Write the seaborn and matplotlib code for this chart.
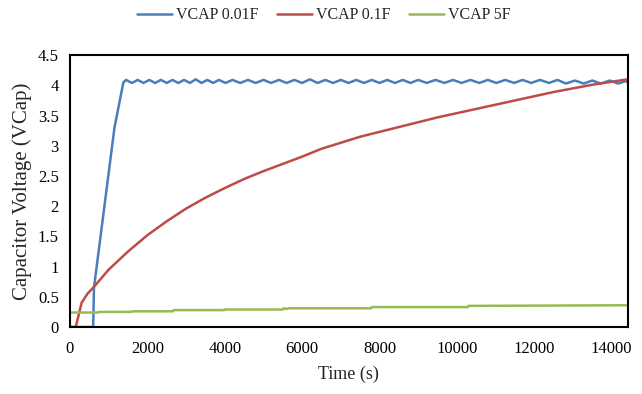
import matplotlib
matplotlib.use("Agg")
import matplotlib.pyplot as plt
from matplotlib.ticker import MultipleLocator
import seaborn as sns
import pandas as pd

# ---- data ----
blue_t = [0, 130, 580, 600, 620, 1150, 1380,
          1450, 1600, 1750, 1900, 2050, 2200, 2350, 2500, 2650, 2800, 2950, 3100,
          3250, 3400, 3550, 3700, 3850, 4020, 4200, 4400, 4600, 4800, 5000, 5200,
          5400, 5600, 5800, 6000, 6200, 6400, 6600, 6800, 7000, 7200, 7400, 7600,
          7800, 8000, 8200, 8400, 8600, 8800, 9000, 9220, 9450, 9680, 9900, 10120,
          10350, 10580, 10800, 11020, 11250, 11480, 11700, 11920, 12150, 12380,
          12600, 12820, 13050, 13280, 13500, 13720, 13950, 14170, 14350, 14420]
blue_v = [0.0, 0.0, 0.0, 0.0, 0.65, 3.3, 4.05,
          4.09, 4.04, 4.09, 4.04, 4.09, 4.04, 4.09, 4.04, 4.09, 4.04, 4.09, 4.04,
          4.10, 4.04, 4.09, 4.04, 4.09, 4.04, 4.09, 4.04, 4.09, 4.04, 4.09, 4.04,
          4.09, 4.04, 4.09, 4.04, 4.10, 4.04, 4.09, 4.04, 4.09, 4.04, 4.09, 4.04,
          4.09, 4.04, 4.09, 4.04, 4.09, 4.04, 4.09, 4.04, 4.09, 4.04, 4.09, 4.04,
          4.09, 4.04, 4.09, 4.04, 4.09, 4.04, 4.09, 4.04, 4.09, 4.04,
          4.09, 4.03, 4.08, 4.03, 4.08, 4.03, 4.08, 4.03, 4.07, 4.05]

red_t = [0, 150, 300, 450, 600, 800, 1000, 1500, 2000, 2500, 3000, 3500, 4000,
         4500, 5000, 5500, 6000, 6500, 7000, 7500, 8000, 8500, 9000, 9500, 10000,
         10500, 11000, 11500, 12000, 12500, 13000, 13500, 14000, 14420]
red_v = [0.0, 0.0, 0.40, 0.55, 0.65, 0.80, 0.95, 1.25, 1.52, 1.75, 1.96, 2.14, 2.30,
         2.45, 2.58, 2.70, 2.82, 2.95, 3.05, 3.15, 3.23, 3.31, 3.39, 3.47, 3.54,
         3.61, 3.68, 3.75, 3.82, 3.89, 3.95, 4.01, 4.06, 4.10]

green_t = [0, 720, 740, 1590, 1610, 2660, 2680, 3990, 4010, 5500, 5520, 5600,
           5650, 7780, 7800, 7840, 10280, 10300, 10340, 14420]
green_v = [0.24, 0.24, 0.25, 0.25, 0.26, 0.26, 0.28, 0.28, 0.29, 0.29, 0.31, 0.30,
           0.31, 0.31, 0.33, 0.33, 0.33, 0.35, 0.35, 0.36]

series_names = ["VCAP 0.01F", "VCAP 0.1F", "VCAP 5F"]
colors = ["#4a7ebb", "#be4b48", "#98b954"]

frames = []
for name, t, v in zip(series_names, [blue_t, red_t, green_t], [blue_v, red_v, green_v]):
    frames.append(pd.DataFrame({"t": t, "v": v, "s": name}))
df = pd.concat(frames, ignore_index=True)

sns.set_style("white")
plt.rcParams["font.family"] = ["Liberation Serif", "DejaVu Serif"]

fig = plt.figure(figsize=(6.42, 3.94), dpi=100)
ax = fig.add_axes([0.109, 0.170, 0.869, 0.690])

sns.lineplot(data=df, x="t", y="v", hue="s", palette=colors, sort=False,
             estimator=None, linewidth=1.8, ax=ax, legend=True)

ax.set_xlim(0, 14420)
ax.set_ylim(0, 4.5)
ax.xaxis.set_major_locator(MultipleLocator(2000))
ax.xaxis.set_minor_locator(MultipleLocator(500))
ax.yaxis.set_major_locator(MultipleLocator(0.5))
ax.yaxis.set_minor_locator(MultipleLocator(0.1))
ax.set_yticks(ax.get_yticks())
ax.set_yticklabels([f"{v:g}" for v in ax.get_yticks()])
ax.set_ylim(0, 4.5)
ax.tick_params(which="major", direction="in", length=5, width=1.2, labelsize=12, colors="black")
ax.tick_params(which="minor", direction="in", length=3, width=1.0)
ax.tick_params(axis="x", pad=10)
ax.tick_params(axis="y", pad=8)
for sp in ax.spines.values():
    sp.set_color("black")
    sp.set_linewidth(1.5)

ax.set_xlabel("Time (s)", fontsize=13, labelpad=6)
ax.set_ylabel("Capacitor Voltage (VCap)", fontsize=15, labelpad=4)

handles, labels = ax.get_legend_handles_labels()
ax.legend(handles, labels, loc="center", bbox_to_anchor=(0.455, 1.147),
          ncol=3, frameon=False, fontsize=11.5, handlelength=2.2, columnspacing=1.2,
          handletextpad=0.2)

fig.savefig("out.png", dpi=100)
